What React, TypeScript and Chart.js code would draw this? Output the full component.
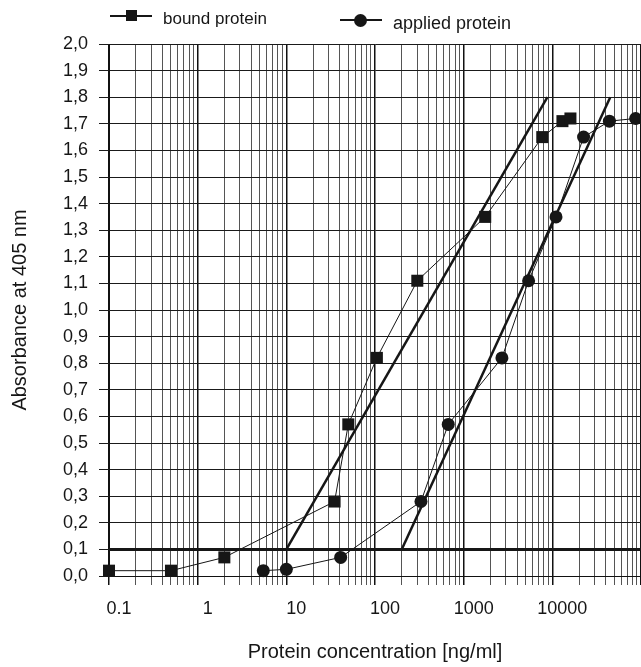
import React, { useEffect, useRef } from 'react';
import { Chart, registerables } from 'chart.js';

Chart.register(...registerables);

// ---- data ----
const boundConc = [0.1, 0.5, 2, 35, 50, 105, 300, 1750, 7700, 13000, 16000];
const boundAbs = [0.02, 0.02, 0.07, 0.28, 0.57, 0.82, 1.11, 1.35, 1.65, 1.71, 1.72];
const appliedConc = [5.5, 10, 41, 330, 670, 2700, 5400, 11000, 22500, 44000, 87000];
const appliedAbs = [0.02, 0.025, 0.07, 0.28, 0.57, 0.82, 1.11, 1.35, 1.65, 1.71, 1.72];

const boundFitConc = [10, 8800];
const boundFitAbs = [0.1, 1.8];
const appliedFitConc = [200, 45000];
const appliedFitAbs = [0.1, 1.8];
const cutoffConc = [0.1, 100000];
const cutoffAbs = [0.1, 0.1];

const xDecades = [0.1, 1, 10, 100, 1000, 10000];
const xTickLabels = ['0.1', '1', '10', '100', '1000', '10000'];
const xMinorSteps = [2, 3, 4, 5, 6, 7, 8, 9];
const X_MIN = 0.1;
const X_MAX = 100000;
const Y_MIN = 0;
const Y_MAX = 2;
const Y_STEP = 0.1;

const xTickValues: number[] = [];
xDecades.forEach((d) => {
  xTickValues.push(d);
  xMinorSteps.forEach((m) => xTickValues.push(d * m));
});
xTickValues.push(X_MAX);

const toPoints = (xs: number[], ys: number[]) => xs.map((x, i) => ({ x, y: ys[i] }));

const INK = '#161616';
const FONT = "'Liberation Sans', Arial, Helvetica, sans-serif";

const isMajor = (v: number) =>
  v === X_MAX || xDecades.some((d) => Math.abs(v - d) / d < 1e-9);

export default function App() {
  const ref = useRef<HTMLCanvasElement>(null);

  useEffect(() => {
    const chart = new Chart(ref.current as HTMLCanvasElement, {
      type: 'line',
      data: {
        datasets: [
          {
            label: 'bound protein',
            data: toPoints(boundConc, boundAbs),
            borderColor: INK,
            borderWidth: 1,
            pointStyle: 'rect',
            pointRadius: 8.5,
            pointBackgroundColor: INK,
            pointBorderWidth: 0,
            clip: false,
          },
          {
            label: 'applied protein',
            data: toPoints(appliedConc, appliedAbs),
            borderColor: INK,
            borderWidth: 1,
            pointStyle: 'circle',
            pointRadius: 6.5,
            pointBackgroundColor: INK,
            pointBorderWidth: 0,
            clip: false,
          },
          {
            label: 'bound fit',
            data: toPoints(boundFitConc, boundFitAbs),
            borderColor: INK,
            borderWidth: 2.5,
            pointRadius: 0,
          },
          {
            label: 'applied fit',
            data: toPoints(appliedFitConc, appliedFitAbs),
            borderColor: INK,
            borderWidth: 2.5,
            pointRadius: 0,
          },
          {
            label: 'cutoff',
            data: toPoints(cutoffConc, cutoffAbs),
            borderColor: INK,
            borderWidth: 3,
            pointRadius: 0,
          },
        ],
      },
      options: {
        animation: false,
        responsive: false,
        devicePixelRatio: 1,
        layout: { autoPadding: false, padding: { top: 44, right: 0, bottom: 0, left: 0 } },
        plugins: {
          legend: { display: false },
          tooltip: { enabled: false },
        },
        elements: { line: { tension: 0 } },
        scales: {
          x: {
            type: 'logarithmic',
            min: X_MIN,
            max: X_MAX,
            afterBuildTicks: (scale: any) => {
              scale.ticks = xTickValues.map((v) => ({ value: v }));
            },
            afterFit: (scale: any) => {
              scale.height = 91;
              scale.paddingRight = 0;
            },
            grid: {
              color: (ctx: any) => (ctx.tick && isMajor(ctx.tick.value) ? '#111' : '#555'),
              lineWidth: (ctx: any) => (ctx.tick && isMajor(ctx.tick.value) ? 1.5 : 1),
              tickLength: 9,
              drawTicks: true,
            },
            border: { display: true, color: '#111', width: 1 },
            ticks: {
              autoSkip: false,
              maxRotation: 0,
              minRotation: 0,
              padding: 13,
              labelOffset: 10,
              color: INK,
              font: { family: FONT, size: 18 },
              callback: (value: any) => {
                const v = Number(value);
                const i = xDecades.findIndex((d) => Math.abs(v - d) / d < 1e-9);
                return i >= 0 ? xTickLabels[i] : '';
              },
            },
            title: {
              display: true,
              text: 'Protein concentration [ng/ml]',
              color: INK,
              font: { family: FONT, size: 20 },
              padding: { top: 0, bottom: 3 },
            },
          },
          y: {
            type: 'linear',
            min: Y_MIN,
            max: Y_MAX,
            afterFit: (scale: any) => {
              scale.width = 109;
            },
            grid: {
              color: '#1a1a1a',
              lineWidth: 1,
              tickLength: 10,
            },
            border: { display: true, color: '#111', width: 1 },
            ticks: {
              stepSize: Y_STEP,
              padding: 11,
              color: INK,
              font: { family: FONT, size: 18 },
              callback: (value: any) => Number(value).toFixed(1).replace('.', ','),
            },
            title: {
              display: true,
              text: 'Absorbance at 405 nm',
              color: INK,
              font: { family: FONT, size: 20 },
              padding: { top: 8, bottom: 0 },
            },
          },
        },
      } as any,
    });
    return () => chart.destroy();
  }, []);

  const textStyle: React.CSSProperties = {
    position: 'absolute',
    fontFamily: FONT,
    lineHeight: '18px',
    color: INK,
    whiteSpace: 'nowrap',
  };

  return (
    <div style={{ position: 'absolute', left: 0, top: 0, width: 641, height: 667, background: '#fff', overflow: 'hidden' }}>
      <canvas ref={ref} width={641} height={667} style={{ display: 'block', width: 641, height: 667 }} />
      {/* legend: bound protein */}
      <div style={{ position: 'absolute', left: 110, top: 14.5, width: 42, height: 2, background: INK }} />
      <div style={{ position: 'absolute', left: 126, top: 10, width: 11, height: 11, background: INK }} />
      <div style={{ ...textStyle, fontSize: 17, left: 163, top: 10 }}>bound protein</div>
      {/* legend: applied protein */}
      <div style={{ position: 'absolute', left: 340, top: 19, width: 42, height: 2, background: INK }} />
      <div style={{ position: 'absolute', left: 354, top: 14, width: 13, height: 13, borderRadius: '50%', background: INK }} />
      <div style={{ ...textStyle, fontSize: 18, left: 393, top: 14 }}>applied protein</div>
    </div>
  );
}
